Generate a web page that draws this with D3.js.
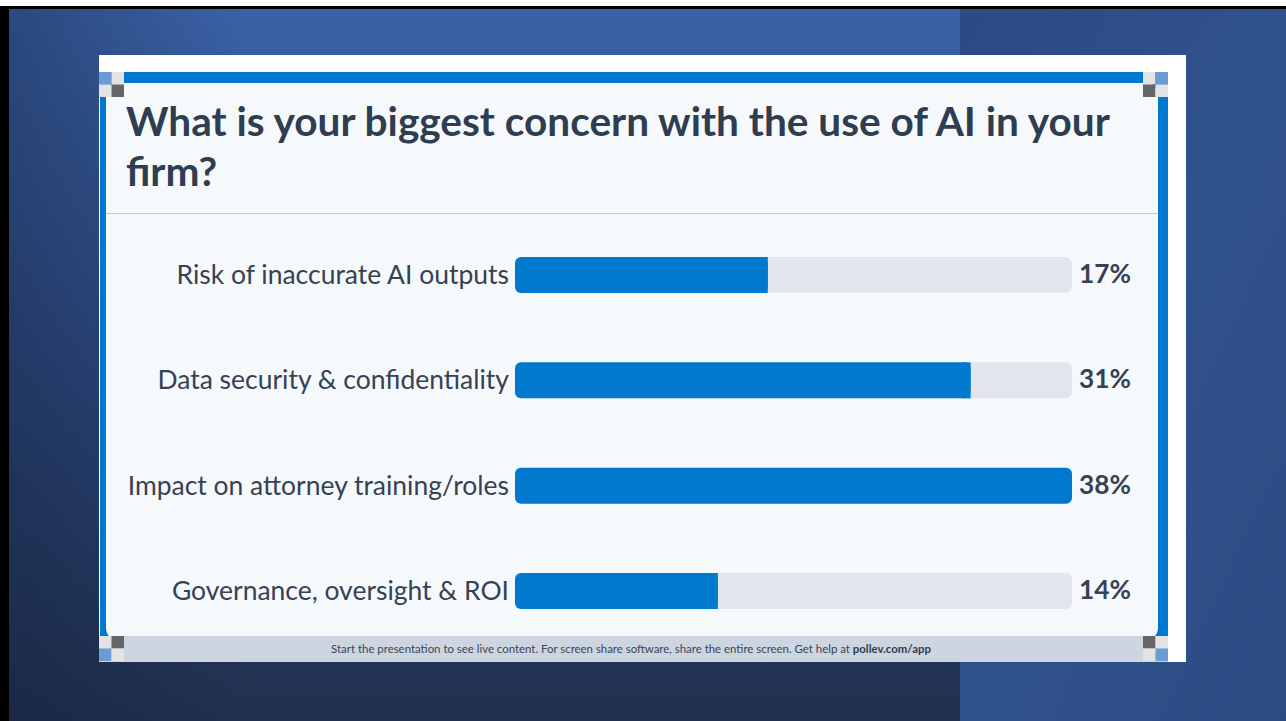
<!DOCTYPE html>
<html>
<head>
<meta charset="utf-8">
<script src="https://cdn.jsdelivr.net/npm/d3@7"></script>
<style>
  html, body { margin: 0; padding: 0; background: #ffffff; }
  svg { display: block; }
</style>
</head>
<body>
<svg id="chart" width="1286" height="721"></svg>
<script>
// ---- data ----
const titleLines = ["What is your biggest concern with the use of AI in your", "firm?"];
const categories = [
  "Risk of inaccurate AI outputs",
  "Data security & confidentiality",
  "Impact on attorney training/roles",
  "Governance, oversight & ROI"
];
const values = [17.2, 31.0, 37.9, 13.8];
const valueLabels = ["17%", "31%", "38%", "14%"];
const footerText = "Start the presentation to see live content. For screen share software, share the entire screen. Get help at ";
const footerLink = "pollev.com/app";

// ---- drawing ----
const svg = d3.select("#chart");
const W = 1286, H = 721;
const defs = svg.append("defs");

const gLeft = defs.append("linearGradient").attr("id", "bgLeft").attr("x1", 0).attr("y1", 0).attr("x2", 0).attr("y2", 1);
gLeft.append("stop").attr("offset", "0").attr("stop-color", "#3b62a7");
gLeft.append("stop").attr("offset", "0.45").attr("stop-color", "#2f4c84");
gLeft.append("stop").attr("offset", "1").attr("stop-color", "#21304d");

const gLeftH = defs.append("linearGradient").attr("id", "bgLeftH").attr("x1", 0).attr("y1", 0).attr("x2", 1).attr("y2", 0);
gLeftH.append("stop").attr("offset", "0").attr("stop-color", "#0d1a33").attr("stop-opacity", 0.35);
gLeftH.append("stop").attr("offset", "0.25").attr("stop-color", "#0d1a33").attr("stop-opacity", 0);
gLeftH.append("stop").attr("offset", "1").attr("stop-color", "#0d1a33").attr("stop-opacity", 0);

const gRight = defs.append("linearGradient").attr("id", "bgRight").attr("x1", 0).attr("y1", 0).attr("x2", 1).attr("y2", 1);
gRight.append("stop").attr("offset", "0").attr("stop-color", "#2c4a84");
gRight.append("stop").attr("offset", "0.5").attr("stop-color", "#30528c");
gRight.append("stop").attr("offset", "1").attr("stop-color", "#2d4b83");

// outer frame
svg.append("rect").attr("x", 0).attr("y", 6).attr("width", W).attr("height", H - 6).attr("fill", "#000");
svg.append("rect").attr("x", 9).attr("y", 9).attr("width", 960 - 9).attr("height", H - 9).attr("fill", "url(#bgLeft)");
svg.append("rect").attr("x", 9).attr("y", 9).attr("width", 960 - 9).attr("height", H - 9).attr("fill", "url(#bgLeftH)");
svg.append("rect").attr("x", 960).attr("y", 9).attr("width", W - 960).attr("height", H - 9).attr("fill", "url(#bgRight)");

// card
const card = { x0: 99, y0: 55, x1: 1186, y1: 662 };
svg.append("rect").attr("x", card.x0).attr("y", card.y0).attr("width", card.x1 - card.x0).attr("height", card.y1 - card.y0).attr("fill", "#ffffff");

// blue frame and inner panel
const frame = { x0: 100, y0: 72, x1: 1168, y1: 640 };
svg.append("rect").attr("x", frame.x0).attr("y", frame.y0).attr("width", frame.x1 - frame.x0).attr("height", frame.y1 - frame.y0).attr("fill", "#0078d0");
svg.append("rect").attr("x", 106).attr("y", 83).attr("width", 1158 - 106).attr("height", 640 - 83)
  .attr("rx", 12).attr("fill", "#f6f9fc");

// divider
svg.append("line").attr("x1", 106).attr("x2", 1158).attr("y1", 213.5).attr("y2", 213.5)
  .attr("stroke", "#c3cad4").attr("stroke-width", 1.2);

// title
const title = svg.append("text")
  .attr("font-family", "Lato, 'Noto Sans', sans-serif")
  .attr("font-weight", 700)
  .attr("font-size", 40)
  .attr("fill", "#2e3d50");
titleLines.forEach((t, i) => {
  title.append("tspan").attr("x", 126).attr("y", 136 + i * 50).text(t);
});
{
  const first = title.select("tspan").node();
  const w = first.getComputedTextLength();
  title.attr("font-size", 40 * 984 / w);
}

// scales
const x = d3.scaleLinear().domain([0, d3.max(values)]).range([515, 1072]);
const y = d3.scalePoint().domain(categories).range([275, 591]);
const barH = 36;

const rows = svg.append("g").selectAll("g.row")
  .data(categories.map((c, i) => ({ c, v: values[i], lab: valueLabels[i] })))
  .join("g").attr("class", "row");

rows.append("rect")
  .attr("x", x(0)).attr("y", d => y(d.c) - barH / 2)
  .attr("width", x.range()[1] - x(0)).attr("height", barH)
  .attr("rx", 6).attr("fill", "#e1e6ee");

rows.append("rect")
  .attr("x", x(0)).attr("y", d => y(d.c) - barH / 2)
  .attr("width", d => x(d.v) - x(0)).attr("height", barH)
  .attr("rx", 6).attr("fill", "#0079cf");
rows.filter(d => d.v < d3.max(values)).append("rect")
  .attr("x", d => x(d.v) - 8).attr("y", d => y(d.c) - barH / 2)
  .attr("width", 8).attr("height", barH)
  .attr("fill", "#0079cf");

const catLabels = rows.append("text")
  .attr("x", 509).attr("y", d => y(d.c) + 9)
  .attr("text-anchor", "end")
  .attr("font-family", "Lato, 'Noto Sans', sans-serif")
  .attr("font-size", 27)
  .attr("fill", "#354253")
  .text(d => d.c);
{
  // reference widths of the labels, used to pick one common font size
  const targets = [331, 351, 388, 334];
  const ratios = catLabels.nodes().map((n, i) => targets[i] / n.getComputedTextLength());
  catLabels.attr("font-size", 27 * d3.mean(ratios));
}

const pctLabels = rows.append("text")
  .attr("x", 1079).attr("y", d => y(d.c) + 8)
  .attr("font-family", "Lato, 'Noto Sans', sans-serif")
  .attr("font-weight", 700)
  .attr("font-size", 24)
  .attr("fill", "#354253")
  .text(d => d.lab);
{
  const w = pctLabels.nodes()[0].getComputedTextLength();
  pctLabels.attr("font-size", 24 * 52 / w);
}

// footer bar
svg.append("rect").attr("x", 99).attr("y", 636).attr("width", 1168 - 99).attr("height", 662 - 636).attr("fill", "#cdd5e0");
const foot = svg.append("text")
  .attr("x", 631).attr("y", 653)
  .attr("text-anchor", "middle")
  .attr("font-family", "Lato, 'Noto Sans', sans-serif")
  .attr("font-size", 12)
  .attr("fill", "#3a4556");
foot.append("tspan").text(footerText);
foot.append("tspan").attr("font-weight", 700).attr("fill", "#2e3d50").text(footerLink);
{
  const w = foot.node().getComputedTextLength();
  foot.attr("font-size", 12 * 601 / w);
}

// corner checker marks
const s = 12.5;
const LB = "#6a9cd2", LG = "#e3e3e3", DG = "#666666";
const corners = [
  { x: 99, y: 72, c: [LB, LG, LG, DG] },
  { x: 1143, y: 72, c: [LG, LB, DG, LG] },
  { x: 99, y: 636, c: [LG, DG, LB, LG] },
  { x: 1143, y: 636, c: [DG, LG, LG, LB] }
];
const cg = svg.append("g");
corners.forEach(k => {
  k.c.forEach((col, i) => {
    cg.append("rect")
      .attr("x", k.x + (i % 2) * s).attr("y", k.y + Math.floor(i / 2) * s)
      .attr("width", s).attr("height", s).attr("fill", col);
  });
});
</script>
</body>
</html>
